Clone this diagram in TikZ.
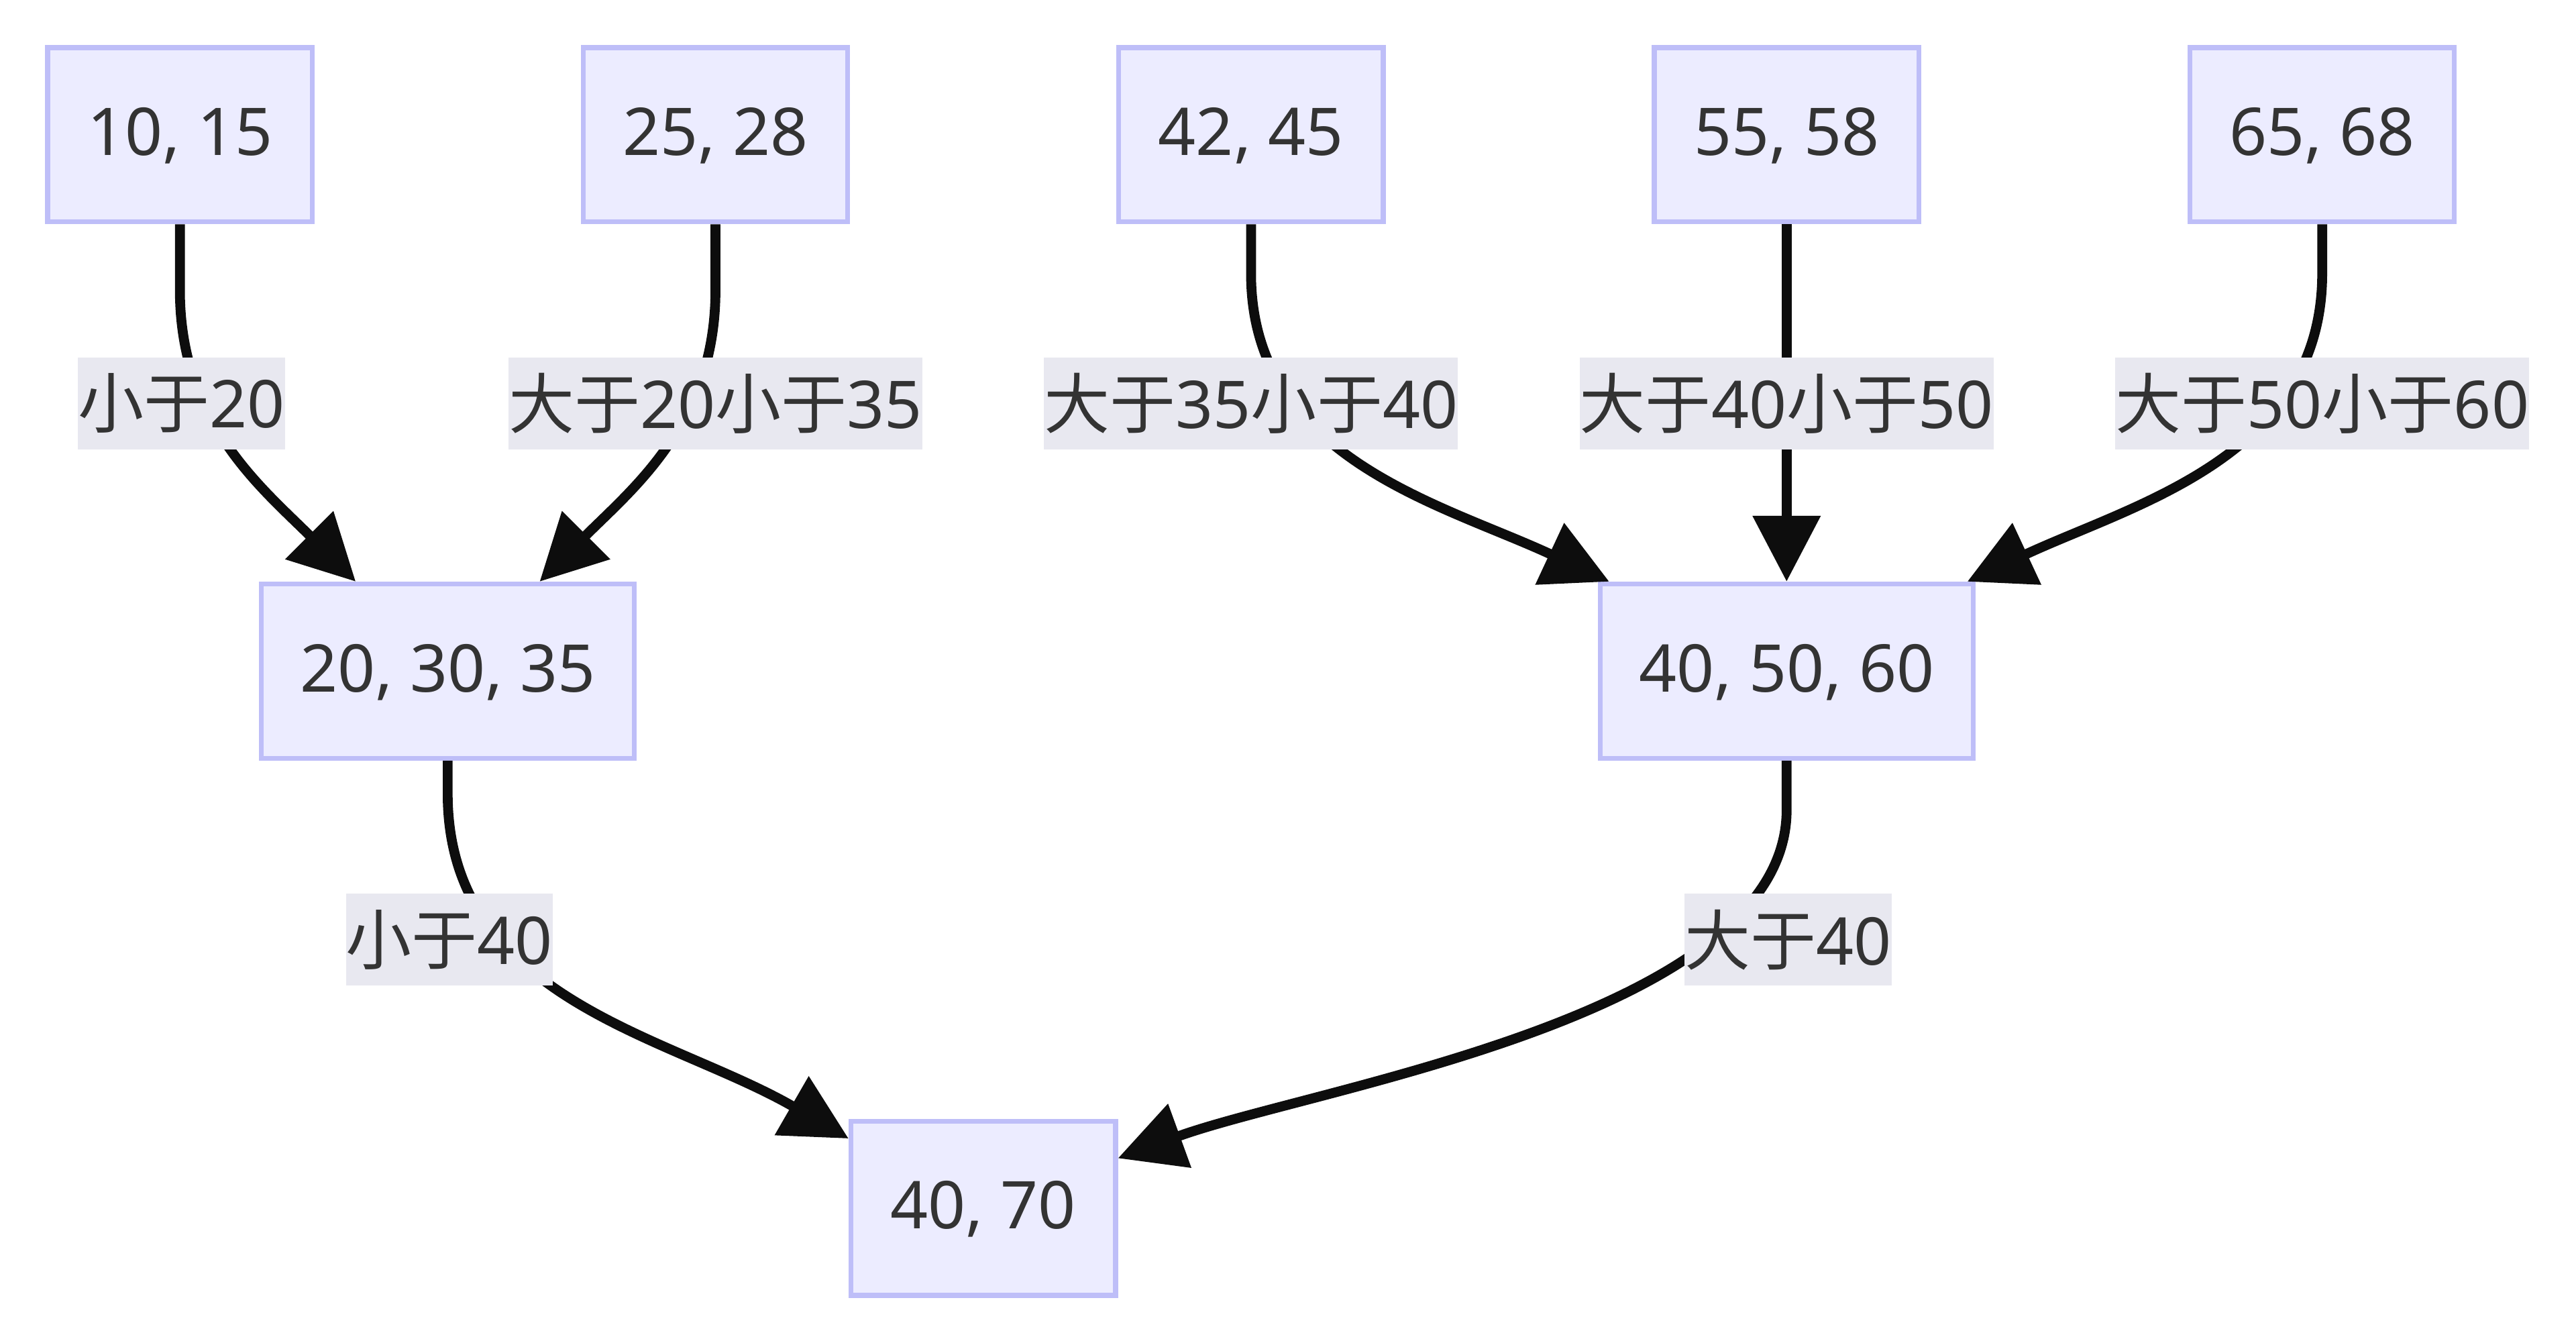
\documentclass[tikz,border=0pt]{standalone}
\usepackage{fontspec}
\setmainfont{Noto Sans}
\newfontfamily\cjk{Noto Sans CJK SC}
\usetikzlibrary{arrows.meta}
\definecolor{boxfill}{HTML}{ECECFF}
\definecolor{boxline}{HTML}{BEBEF8}
\definecolor{labelbg}{HTML}{E8E8F0}
\definecolor{txt}{HTML}{333333}
\definecolor{edgeblack}{HTML}{0D0D0D}
\begin{document}
\begin{tikzpicture}[x=1mm, y=1mm,
  font=\fontsize{11.4pt}{13.7pt}\selectfont,
  box/.style={draw=boxline, fill=boxfill, line width=0.3mm, text=txt,
    minimum width=16.1mm, minimum height=10.6mm, inner sep=0pt,
    text height=0.714em, text depth=0pt},
  widebox/.style={box, minimum width=22.7mm},
  cond/.style={fill=labelbg, text=txt, inner xsep=0pt, inner ysep=0pt,
    minimum height=5.6mm},
  edge/.style={draw=edgeblack, line width=0.6mm,
    -{Triangle[length=4mm, width=4mm]}}]

  \useasboundingbox (0,0) rectangle (156.8,-81.5);

  \node[box] (n1015) at (10.95,-8.2) {10, 15};
  \node[box] (n2528) at (43.55,-8.2) {25, 28};
  \node[box] (n4245) at (76.15,-8.2) {42, 45};
  \node[box] (n5558) at (108.75,-8.2) {55, 58};
  \node[box] (n6568) at (141.35,-8.2) {65, 68};

  \node[widebox] (n203035) at (27.25,-40.85) {20, 30, 35};
  \node[widebox] (n405060) at (108.75,-40.85) {40, 50, 60};
  \node[box] (n4070) at (59.85,-73.55) {40, 70};

  \draw[edge] (n1015.south) -- ++(0,-4) to[out=-90, in=135] ([xshift=5.9mm]n203035.north west);
  \draw[edge] (n2528.south) -- ++(0,-4) to[out=-90, in=45] ([xshift=-5.9mm]n203035.north east);
  \draw[edge] (n4245.south) -- ++(0,-3) to[out=-90, in=155] ([xshift=0.7mm]n405060.north west);
  \draw[edge] (n5558) -- (n405060);
  \draw[edge] (n6568.south) -- ++(0,-3) to[out=-90, in=25] ([xshift=-0.5mm]n405060.north east);
  \draw[edge] (n203035.south) -- ++(0,-2) to[out=-90, in=150] ([yshift=-1.2mm]n4070.north west);
  \draw[edge] (n405060.south) -- ++(0,-3) to[out=-90, in=20, looseness=0.7] ([yshift=-2.4mm]n4070.north east);

  \node[cond] (c1015) at (11.05,-24.55) {{\cjk 小于}20};
  \node[cond] (c2528) at (43.55,-24.55) {{\cjk 大于}20{\cjk 小于}35};
  \node[cond] (c4245) at (76.15,-24.55) {{\cjk 大于}35{\cjk 小于}40};
  \node[cond] (c5558) at (108.75,-24.55) {{\cjk 大于}40{\cjk 小于}50};
  \node[cond] (c6568) at (141.35,-24.55) {{\cjk 大于}50{\cjk 小于}60};
  \node[cond] (c203035) at (27.35,-57.2) {{\cjk 小于}40};
  \node[cond] (c405060) at (108.85,-57.2) {{\cjk 大于}40};
\end{tikzpicture}
\end{document}
